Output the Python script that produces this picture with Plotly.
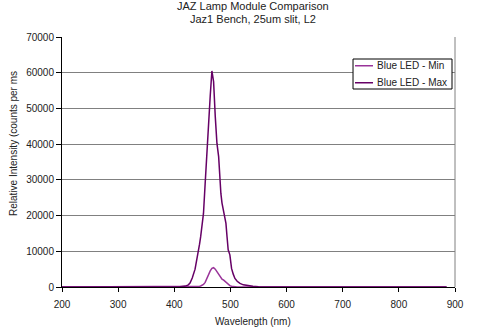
import plotly.graph_objects as go

# Wavelength samples (nm) and measured intensities (counts per ms)
wavelength = [200, 250, 300, 350, 400, 410, 420, 425, 428, 432, 437, 441, 445, 447,
              450, 452, 455, 458, 461, 464, 467, 470, 473, 476, 479, 481, 483, 485,
              488, 490, 492, 494, 496, 499, 502, 505, 508, 512, 517, 523, 530, 540,
              550, 565, 580, 600, 700, 800, 885]

blue_led_min = [0, 0, 0, 0, 0, 0, 0, 0, 0, 20, 60, 120, 200, 280,
                450, 700, 1300, 2500, 3600, 4500, 5200, 5400, 5000, 4300, 3400, 2900, 2500, 2200,
                1900, 1600, 1200, 900, 650, 380, 220, 120, 60, 30, 10, 0, 0, 0,
                0, 0, 0, 0, 0, 0, 0]

blue_led_max = [0, 0, 0, 0, 0, 50, 250, 600, 1100, 2500, 5000, 8000, 12000, 14100,
                18000, 20600, 29000, 38400, 44000, 53500, 60500, 57500, 47700, 40200, 36500, 29500, 26200, 23500,
                20600, 19500, 17800, 14000, 10400, 9000, 5200, 3600, 2400, 1600, 1000, 600, 350, 180,
                90, 40, 15, 0, 0, 0, 0]

series_names = ["Blue LED - Min", "Blue LED - Max"]
series_colors = ["#993399", "#660066"]

x_ticks = [200, 300, 400, 500, 600, 700, 800, 900]
y_ticks = [0, 10000, 20000, 30000, 40000, 50000, 60000, 70000]

font_family = "Arial, Liberation Sans, sans-serif"
text_color = "#222222"

fig = go.Figure()
for name, values, color in zip(series_names, [blue_led_min, blue_led_max], series_colors):
    fig.add_trace(go.Scatter(x=wavelength, y=values, mode="lines", name=name,
                             line=dict(color=color, width=1.5), showlegend=False))

# Compact boxed legend in the upper right of the plot area
legend_shapes = [
    dict(type="rect", xref="paper", yref="paper", x0=0.7405, x1=0.9924, y0=0.792, y1=0.912,
         fillcolor="white", line=dict(color="#000000", width=1), layer="above"),
]
legend_annotations = []
for i, (name, color) in enumerate(zip(series_names, series_colors)):
    yc = 0.885 - i * 0.068
    legend_shapes.append(dict(type="line", xref="paper", yref="paper",
                              x0=0.7455, x1=0.7913, y0=yc, y1=yc,
                              line=dict(color=color, width=1.5), layer="above"))
    legend_annotations.append(dict(text=name, xref="paper", yref="paper",
                                   x=0.796, y=yc, xanchor="left", yanchor="middle",
                                   showarrow=False, font=dict(size=10, color=text_color)))

fig.update_layout(
    width=500, height=327,
    margin=dict(l=62, r=45, t=37, b=40),
    paper_bgcolor="white", plot_bgcolor="white",
    font=dict(family=font_family, size=10, color=text_color),
    showlegend=False,
    xaxis=dict(range=[200, 900], tickvals=x_ticks, showgrid=False,
               showline=True, linecolor="#000000", linewidth=1, mirror=False,
               ticks="outside", ticklen=4, tickcolor="#000000", zeroline=False,
               ticklabelstandoff=4, automargin=False),
    yaxis=dict(range=[0, 70000], tickvals=y_ticks, showgrid=True,
               gridcolor="#808080", gridwidth=1,
               showline=True, linecolor="#000000", linewidth=1,
               ticks="outside", ticklen=5, tickcolor="#000000", zeroline=False,
               tickformat="d", automargin=False),
    shapes=[
        # right border of the plot area
        dict(type="line", xref="paper", yref="paper", x0=1, x1=1, y0=0, y1=1,
             line=dict(color="#808080", width=1)),
    ] + legend_shapes,
    annotations=[
        dict(text="JAZ Lamp Module Comparison", xref="paper", yref="paper",
             x=0.487, y=1.0, yanchor="middle", yshift=31, showarrow=False,
             font=dict(size=11, color=text_color)),
        dict(text="Jaz1 Bench, 25um slit, L2", xref="paper", yref="paper",
             x=0.487, y=1.0, yanchor="middle", yshift=18, showarrow=False,
             font=dict(size=11, color=text_color)),
        dict(text="Wavelength (nm)", xref="paper", yref="paper",
             x=0.487, y=0, yanchor="middle", yshift=-34, showarrow=False,
             font=dict(size=10, color=text_color)),
        dict(text="Relative Intensity (counts per ms", xref="paper", yref="paper",
             x=0, xshift=-49, y=0.572, xanchor="center", yanchor="middle",
             textangle=-90, showarrow=False,
             font=dict(size=10, color=text_color)),
    ] + legend_annotations,
)

fig.write_html("out.html")
